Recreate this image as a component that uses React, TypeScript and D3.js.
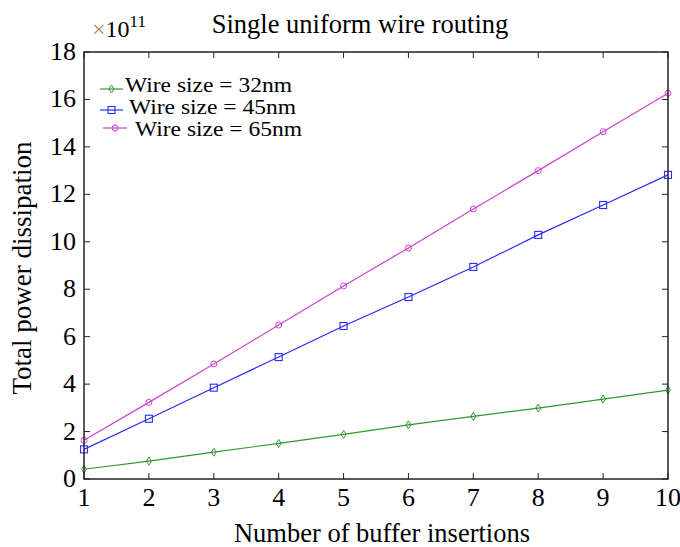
import React from "react";
import * as d3 from "d3";

const xs = [1, 2, 3, 4, 5, 6, 7, 8, 9, 10];
const wire32 = [0.41, 0.75, 1.13, 1.5, 1.88, 2.28, 2.64, 2.99, 3.37, 3.75];
const wire45 = [1.25, 2.54, 3.85, 5.14, 6.45, 7.67, 8.94, 10.29, 11.55, 12.82];
const wire65 = [1.63, 3.23, 4.85, 6.49, 8.14, 9.74, 11.38, 13.0, 14.64, 16.26];
const yTicks = [0, 2, 4, 6, 8, 10, 12, 14, 16, 18];
const seriesNames = ["Wire size = 32nm", "Wire size = 45nm", "Wire size = 65nm"];

const FONT = "'Liberation Serif', 'Times New Roman', serif";

export default function App() {
  const W = 680, H = 547;
  const x = d3.scaleLinear().domain([1, 10]).range([84, 668]);
  const y = d3.scaleLinear().domain([0, 18]).range([479, 52]);
  const line = d3.line<number>().x((_, i) => x(xs[i])).y((d) => y(d));

  const series = [
    { name: seriesNames[0], data: wire32, color: "#2f9a2f", marker: "diamond" },
    { name: seriesNames[1], data: wire45, color: "#2a2aff", marker: "square" },
    { name: seriesNames[2], data: wire65, color: "#d040d0", marker: "circle" },
  ];

  const marker = (m: string, cx: number, cy: number, color: string, key: any) => {
    if (m === "diamond")
      return <path key={key} d={`M${cx},${cy - 4}L${cx + 2.5},${cy}L${cx},${cy + 4}L${cx - 2.5},${cy}Z`} fill="none" stroke={color} strokeWidth={1} />;
    if (m === "square")
      return <rect key={key} x={cx - 3.5} y={cy - 3.5} width={7} height={7} fill="none" stroke={color} strokeWidth={1.1} />;
    return <ellipse key={key} cx={cx} cy={cy} rx={3} ry={3} fill="none" stroke={color} strokeWidth={1} />;
  };

  const legend = [
    { y: 89, x1: 100, x2: 123, tx: 125 },
    { y: 110, x1: 100, x2: 123, tx: 129 },
    { y: 128, x1: 103, x2: 127, tx: 135 },
  ];
  const legendBase = [92, 114, 136];

  return (
    <svg width={W} height={H} style={{ position: "absolute", left: 0, top: 0 }} fontFamily={FONT}>
      <rect x={0} y={0} width={W} height={H} fill="#fff" />
      {series.map((s, si) => (
        <g key={si}>
          <path d={line(s.data) || ""} fill="none" stroke={s.color} strokeWidth={1.2} />
          {s.data.map((v, i) => marker(s.marker, x(xs[i]), y(v), s.color, i))}
        </g>
      ))}
      <rect x={84} y={52} width={584} height={427} fill="none" stroke="#222" strokeWidth={1.5} />
      {xs.map((t) => (
        <g key={"xt" + t}>
          <line x1={x(t)} x2={x(t)} y1={479} y2={473} stroke="#222" strokeWidth={1} />
          <line x1={x(t)} x2={x(t)} y1={52} y2={58} stroke="#222" strokeWidth={1} />
          <text x={x(t)} y={506} textAnchor="middle" fontSize={26} fill="#000">{t}</text>
        </g>
      ))}
      {yTicks.map((t) => (
        <g key={"yt" + t}>
          <line x1={84} x2={90} y1={y(t)} y2={y(t)} stroke="#222" strokeWidth={1} />
          <line x1={668} x2={662} y1={y(t)} y2={y(t)} stroke="#222" strokeWidth={1} />
          <text x={76} y={y(t) + 8} textAnchor="end" fontSize={26} fill="#000">{t}</text>
        </g>
      ))}
      {series.map((s, i) => {
        const l = legend[i];
        return (
          <g key={"lg" + i}>
            <line x1={l.x1} x2={l.x2} y1={l.y} y2={l.y} stroke={s.color} strokeWidth={1.2} />
            {marker(s.marker, (l.x1 + l.x2) / 2, l.y, s.color, "m")}
            <text x={l.tx} y={legendBase[i]} fontSize={21.5} textLength={167} lengthAdjust="spacingAndGlyphs" fill="#000">{s.name}</text>
          </g>
        );
      })}
      <text x={92} y={37} fontSize={24} fill="#000">
        <tspan fill="#a08a5a">×</tspan>10<tspan fontSize={17} dy={-10}>11</tspan>
      </text>
      <text x={360} y={33} textAnchor="middle" fontSize={26.5} fill="#000">Single uniform wire routing</text>
      <text x={382} y={542} textAnchor="middle" fontSize={26.5} fill="#000">Number of buffer insertions</text>
      <text transform={`translate(31,268) rotate(-90)`} textAnchor="middle" fontSize={27} fill="#000">Total power dissipation</text>
    </svg>
  );
}
